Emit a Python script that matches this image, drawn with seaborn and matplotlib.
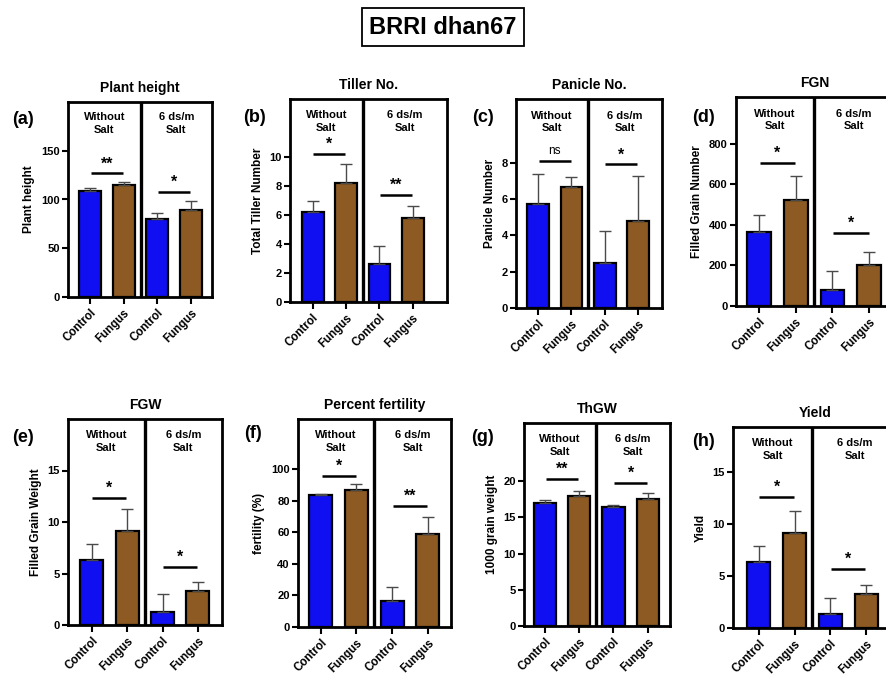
import numpy as np
import pandas as pd
import matplotlib
matplotlib.use("Agg")
import matplotlib.pyplot as plt
import matplotlib.transforms as mtransforms
import seaborn as sns

# ---- data ----
treatments = ["Control", "Fungus", "Control", "Fungus"]
conditions = ["Without\nSalt", "6 ds/m\nSalt"]

height_mean = [108.5, 114.4, 80.2, 89.7]
height_err = [3.1, 3.4, 6.1, 8.6]
height_sig = ["**", "*"]
height_sig_y = [126.7, 107.5]

tiller_mean = [6.2, 8.2, 2.65, 5.8]
tiller_err = [0.8, 1.3, 1.2, 0.8]
tiller_sig = ["*", "**"]
tiller_sig_y = [10.2, 7.4]

panicle_mean = [5.7, 6.65, 2.48, 4.8]
panicle_err = [1.7, 0.55, 1.75, 2.48]
panicle_sig = ["ns", "*"]
panicle_sig_y = [8.1, 7.9]

fgn_mean = [365, 520, 80, 201]
fgn_err = [85, 119, 94, 66]
fgn_sig = ["*", "*"]
fgn_sig_y = [707, 358]

fgw_mean = [6.3, 9.13, 1.3, 3.3]
fgw_err = [1.57, 2.11, 1.68, 0.85]
fgw_sig = ["*", "*"]
fgw_sig_y = [12.37, 5.67]

fert_mean = [83.7, 86.9, 16.5, 59.3]
fert_err = [0.8, 3.6, 8.9, 10.6]
fert_sig = ["*", "**"]
fert_sig_y = [96, 76.7]

thgw_mean = [16.9, 18.0, 16.4, 17.5]
thgw_err = [0.5, 0.6, 0.3, 0.8]
thgw_sig = ["**", "*"]
thgw_sig_y = [20.3, 19.7]

yield_mean = [6.32, 9.16, 1.3, 3.3]
yield_err = [1.56, 2.04, 1.6, 0.8]
yield_sig = ["*", "*"]
yield_sig_y = [12.6, 5.65]

panels = [
    ("(a)", "Plant height", "Plant height", height_mean, height_err, height_sig, height_sig_y, [0, 50, 100, 150], 200),
    ("(b)", "Tiller No.", "Total Tiller Number", tiller_mean, tiller_err, tiller_sig, tiller_sig_y, [0, 2, 4, 6, 8, 10], 14),
    ("(c)", "Panicle No.", "Panicle Number", panicle_mean, panicle_err, panicle_sig, panicle_sig_y, [0, 2, 4, 6, 8], 11.5),
    ("(d)", "FGN", "Filled Grain Number", fgn_mean, fgn_err, fgn_sig, fgn_sig_y, [0, 200, 400, 600, 800], 1030),
    ("(e)", "FGW", "Filled Grain Weight", fgw_mean, fgw_err, fgw_sig, fgw_sig_y, [0, 5, 10, 15], 20),
    ("(f)", "Percent fertility", "fertility (%)", fert_mean, fert_err, fert_sig, fert_sig_y, [0, 20, 40, 60, 80, 100], 132),
    ("(g)", "ThGW", "1000 grain weight", thgw_mean, thgw_err, thgw_sig, thgw_sig_y, [0, 5, 10, 15, 20], 28),
    ("(h)", "Yield", "Yield", yield_mean, yield_err, yield_sig, yield_sig_y, [0, 5, 10, 15], 19.3),
]

# ---- layout (pixels): box left, right, top, bottom ; xlim ; letter position ----
W, H = 886, 675
boxes = [(68, 212, 102, 297), (290, 447, 99, 302), (516, 662, 99, 308), (736, 894, 97, 306),
         (68, 222, 419, 625), (298, 451, 419, 627), (524, 670, 423, 626), (733, 897, 427, 628)]
xlims = [(-0.65, 3.62), (-0.68, 4.03), (-0.66, 3.72), (-0.62, 3.67),
         (-0.67, 3.68), (-0.64, 3.65), (-0.61, 3.65), (-0.72, 3.86)]
letter_pos = [(12, 120), (243, 117), (472, 118), (692, 117),
              (12, 437), (244, 434), (471, 437), (692, 441)]

palette = {"Control": "#0f0ff2", "Fungus": "#8c5a22"}

sns.set_style("ticks")
plt.rcParams["font.family"] = ["Liberation Sans", "DejaVu Sans"]
plt.rcParams["font.weight"] = "bold"
plt.rcParams["axes.labelweight"] = "bold"
plt.rcParams["axes.titleweight"] = "bold"
for key in ["text.color", "axes.labelcolor", "xtick.color", "ytick.color", "axes.edgecolor"]:
    plt.rcParams[key] = "black"

fig = plt.figure(figsize=(W / 100, H / 100), dpi=100)

for i, (letter, title, ylabel, mean, err, sig, sig_y, yticks, ytop) in enumerate(panels):
    L, R, T, B = boxes[i]
    ax = fig.add_axes([L / W, 1 - B / H, (R - L) / W, (B - T) / H])
    df = pd.DataFrame({"slot": ["c1", "f1", "c2", "f2"], "treat": treatments, "value": mean})
    sns.barplot(data=df, x="slot", y="value", hue="treat", palette=palette, dodge=False,
                saturation=1, width=0.65, edgecolor="black", linewidth=1.6, errorbar=None,
                legend=False, ax=ax)
    ax.errorbar(np.arange(4), mean, yerr=[np.zeros(4), err], fmt="none", ecolor="#4a4a4a",
                elinewidth=1, capsize=4, capthick=1)

    ax.set_xlim(xlims[i])
    ax.set_ylim(0, ytop)
    ax.set_yticks(yticks)
    ax.set_xticks(range(4))
    ax.set_xticklabels(treatments, rotation=45, ha="right", va="top", rotation_mode="anchor",
                       fontsize=8.3, fontweight="bold")
    ax.tick_params(axis="y", width=1.5, length=4, labelsize=8, pad=2)
    ax.tick_params(axis="x", width=1.5, length=5, pad=2)
    ax.set_xlabel("")
    ax.set_ylabel(ylabel, fontsize=8.5, fontweight="bold", labelpad=4)
    ax.set_title(title, fontsize=10, fontweight="bold", pad=7)
    for sp in ax.spines.values():
        sp.set_visible(True)
        sp.set_linewidth(2)
    ax.axvline(1.5, color="black", lw=2.4)

    # group labels
    trans = mtransforms.blended_transform_factory(ax.transData, ax.transAxes)
    lo, hi = xlims[i]
    ax.text((lo + 1.5) / 2, 0.89, conditions[0], transform=trans, ha="center", va="center",
            fontsize=8, fontweight="bold", linespacing=1.35)
    ax.text((1.5 + hi) / 2, 0.89, conditions[1], transform=trans, ha="center", va="center",
            fontsize=8, fontweight="bold", linespacing=1.35)

    # significance brackets
    for k, (lab, y) in enumerate(zip(sig, sig_y)):
        ax.plot([2 * k + 0.02, 2 * k + 0.98], [y, y], color="black", lw=1.8, solid_capstyle="butt")
        star = lab != "ns"
        ax.annotate(lab, (2 * k + 0.5, y), xytext=(0, 1.5 if star else 3), textcoords="offset points",
                    ha="center", va="bottom", fontsize=11.5 if star else 8.5,
                    fontweight="bold" if star else "normal")

    fig.text(letter_pos[i][0] / W, 1 - letter_pos[i][1] / H, letter, fontsize=13,
             fontweight="bold", ha="left", va="center")

fig.text(0.5, 1 - 27 / H, "BRRI dhan67", fontsize=17, fontweight="bold", ha="center", va="center",
         bbox=dict(boxstyle="square,pad=0.3", fc="white", ec="black", lw=1.3))

fig.savefig("out.png", dpi=100)
